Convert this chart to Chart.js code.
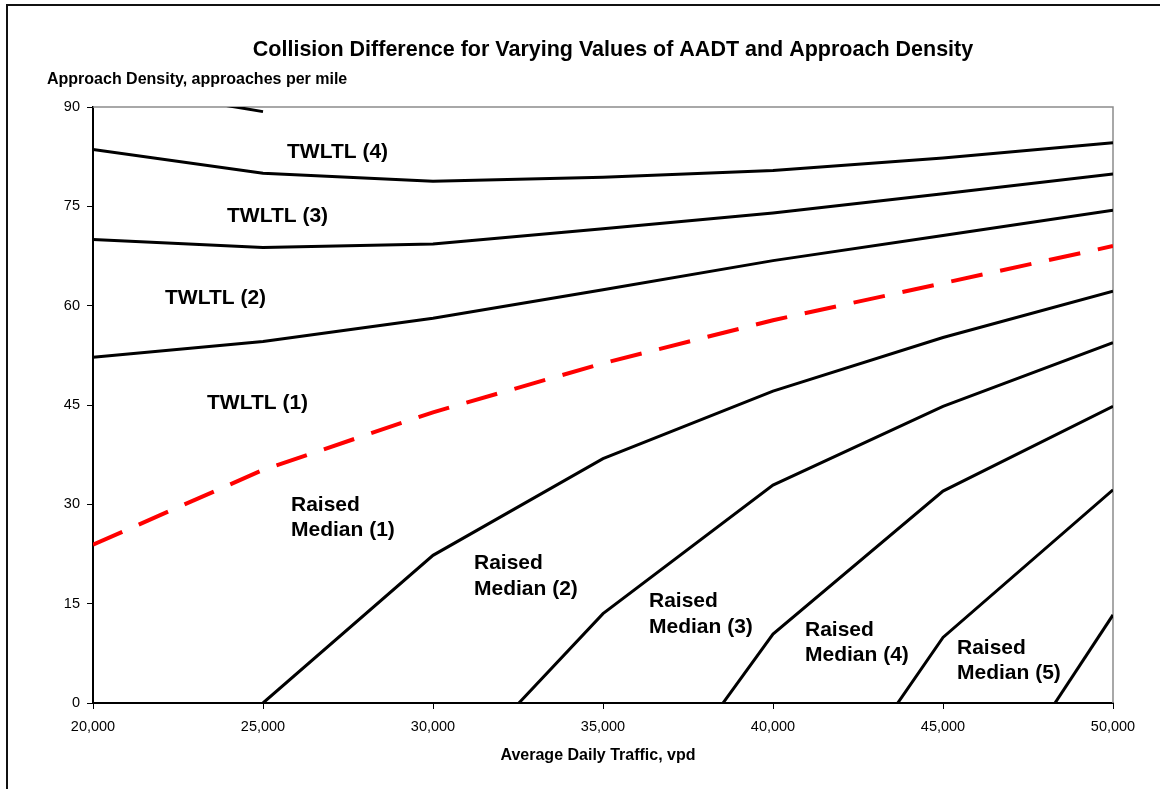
<!DOCTYPE html>
<html>
<head>
<meta charset="utf-8">
<script src="https://cdn.jsdelivr.net/npm/chart.js@4.4.1/dist/chart.umd.min.js"></script>
<style>
html, body { margin: 0; padding: 0; background: #fff; overflow: hidden; }
#frame { position: absolute; left: 6px; top: 4px; width: 1200px; height: 900px; border-left: 2px solid #111; border-top: 2px solid #111; }
#wrap { position: absolute; left: 0; top: 0; width: 1160px; height: 789px; }
</style>
</head>
<body>
<div id="frame"></div>
<div id="wrap"><canvas id="myChart" width="1160" height="789"></canvas></div>
<script>
// AADT (vpd) on the x axis
const aadt = [20000, 25000, 30000, 35000, 40000, 45000, 50000];

// boundary curves, approach density (approaches per mile)
const twltl5 = [93.6, 89.3, null, null, null, null, null];
const twltl4 = [83.6, 80.0, 78.8, 79.4, 80.4, 82.3, 84.6];
const twltl3 = [70.0, 68.8, 69.3, 71.6, 74.0, 76.9, 79.9];
const twltl2 = [52.2, 54.6, 58.1, 62.4, 66.8, 70.6, 74.4];
const breakEven = [23.9, 35.2, 43.9, 51.3, 57.8, 63.4, 69.0];
const raised1 = [null, 0, 22.3, 36.9, 47.1, 55.2, 62.2];
const raised2 = [null, null, -13.8, 13.5, 32.9, 44.8, 54.4];
const raised3 = [null, null, null, -25.0, 10.4, 32.0, 44.8];
const raised4 = [null, null, null, null, -27.3, 9.9, 32.2];
const raised5 = [null, null, null, null, null, -25.7, 13.3];

const xTicks = [20000, 25000, 30000, 35000, 40000, 45000, 50000];
const yTicks = [0, 15, 30, 45, 60, 75, 90];

// region names, anchored in data units (left edge, first text line)
const regionNames = [
    { text: ['TWLTL (4)'], at: [25706, 83.2] },
    { text: ['TWLTL (3)'], at: [23941, 73.5] },
    { text: ['TWLTL (2)'], at: [22118, 61.2] },
    { text: ['TWLTL (1)'], at: [23353, 45.3] },
    { text: ['Raised', 'Median (1)'], at: [25824, 29.9] },
    { text: ['Raised', 'Median (2)'], at: [31206, 21.1] },
    { text: ['Raised', 'Median (3)'], at: [36353, 15.3] },
    { text: ['Raised', 'Median (4)'], at: [40941, 11.0] },
    { text: ['Raised', 'Median (5)'], at: [45412, 8.3] },
];

const FONT = '"Liberation Sans", Arial, sans-serif';

const toPoints = (vals) => vals.map((v, i) => ({ x: aadt[i], y: v }));

const blackLine = (label, vals) => ({
    label: label,
    data: toPoints(vals),
    borderColor: '#000',
    borderWidth: 3,
    pointRadius: 0,
    tension: 0,
    clip: 0,
});

const textPlugin = {
    id: 'chartText',
    beforeDatasetsDraw(chart) {
        const { ctx, chartArea } = chart;
        ctx.save();
        ctx.strokeStyle = '#8c8c8c';
        ctx.lineWidth = 1.5;
        ctx.beginPath();
        ctx.moveTo(chartArea.left, chartArea.top);
        ctx.lineTo(chartArea.right, chartArea.top);
        ctx.lineTo(chartArea.right, chartArea.bottom);
        ctx.stroke();
        ctx.restore();
    },
    afterDraw(chart) {
        const { ctx, scales } = chart;
        ctx.save();
        ctx.fillStyle = '#000';
        ctx.textBaseline = 'middle';

        ctx.font = 'bold 21.5px ' + FONT;
        ctx.textAlign = 'center';
        ctx.fillText('Collision Difference for Varying Values of AADT and Approach Density', 613, 50);

        ctx.font = 'bold 16px ' + FONT;
        ctx.textAlign = 'left';
        ctx.fillText('Approach Density, approaches per mile', 47, 80);

        ctx.textAlign = 'center';
        ctx.fillText('Average Daily Traffic, vpd', 598, 756);

        ctx.font = 'bold 21px ' + FONT;
        ctx.textAlign = 'left';
        regionNames.forEach(r => {
            const px = scales.x.getPixelForValue(r.at[0]);
            const py = scales.y.getPixelForValue(r.at[1]);
            r.text.forEach((t, i) => ctx.fillText(t, px, py + i * 25.5));
        });
        ctx.restore();
    }
};

const ctx = document.getElementById('myChart').getContext('2d');
const myChart = new Chart(ctx, {
    type: 'line',
    data: {
        datasets: [
            blackLine('TWLTL 5', twltl5),
            blackLine('TWLTL 4', twltl4),
            blackLine('TWLTL 3', twltl3),
            blackLine('TWLTL 2', twltl2),
            {
                label: 'Break even',
                data: toPoints(breakEven),
                borderColor: '#ff0000',
                borderWidth: 4,
                borderDash: [32, 18],
                pointRadius: 0,
                tension: 0,
                clip: 0,
            },
            blackLine('Raised 1', raised1),
            blackLine('Raised 2', raised2),
            blackLine('Raised 3', raised3),
            blackLine('Raised 4', raised4),
            blackLine('Raised 5', raised5),
        ],
    },
    options: {
        responsive: false,
        animation: false,
        devicePixelRatio: 1,
        layout: { padding: { top: 107, right: 47, left: 0, bottom: 0 } },
        plugins: {
            legend: { display: false },
            tooltip: { enabled: false },
        },
        scales: {
            x: {
                type: 'linear',
                min: 20000,
                max: 50000,
                afterBuildTicks: (axis) => { axis.ticks = xTicks.map(v => ({ value: v })); },
                afterFit: (axis) => { axis.height = 86; },
                ticks: {
                    color: '#000',
                    font: { family: FONT, size: 14.5 },
                    padding: 9,
                    maxRotation: 0,
                    callback: (v) => v.toLocaleString('en-US'),
                },
                grid: { drawOnChartArea: false, color: '#000', tickLength: 6, lineWidth: 1 },
                border: { color: '#000', width: 2 },
            },
            y: {
                min: 0,
                max: 90,
                afterBuildTicks: (axis) => { axis.ticks = yTicks.map(v => ({ value: v })); },
                afterFit: (axis) => { axis.width = 93; },
                ticks: {
                    color: '#000',
                    font: { family: FONT, size: 14.5 },
                    padding: 7,
                },
                grid: { drawOnChartArea: false, color: '#000', tickLength: 6, lineWidth: 1 },
                border: { color: '#000', width: 2 },
            },
        },
    },
    plugins: [textPlugin],
});
</script>
</body>
</html>
